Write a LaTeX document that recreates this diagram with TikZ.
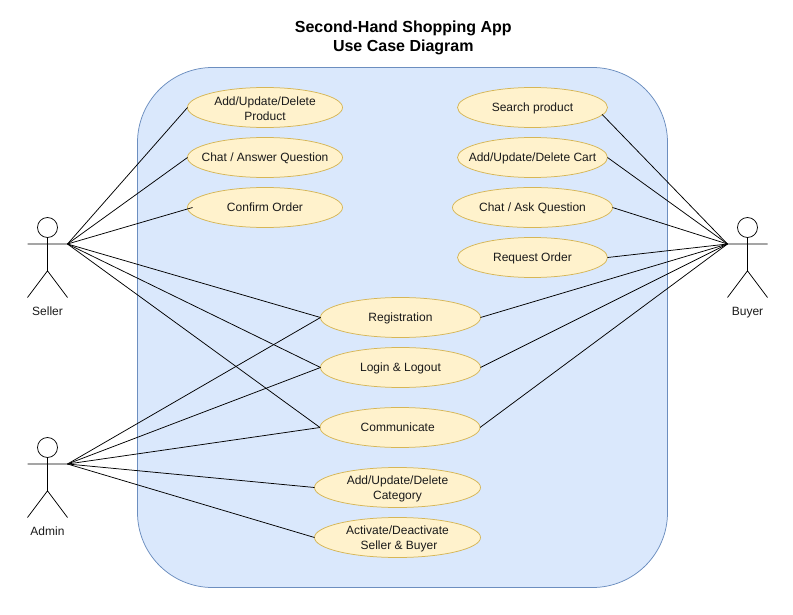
\documentclass[tikz,border=0pt]{standalone}
\usepackage{fontspec}
\setmainfont{Liberation Sans}
\usetikzlibrary{shapes.geometric}
\definecolor{boxfill}{HTML}{DAE8FC}
\definecolor{boxline}{HTML}{6C8EBF}
\definecolor{ucfill}{HTML}{FFF2CC}
\definecolor{ucline}{HTML}{D6B656}
\definecolor{txt}{HTML}{1A1A1A}
\tikzset{x=1pt,y=-1pt,
 uc/.style={ellipse,draw=ucline,fill=ucfill,line width=0.75pt,inner sep=0pt,outer sep=0pt,
   minimum width=#1,minimum height=40pt},
 ucbase/.style={align=center,font=\fontsize{12}{15}\selectfont,text=txt,inner sep=0pt},
 ucl/.style={ucbase,text height=8.6pt,text depth=2.6pt,yshift=-0.9pt},
 ucd/.style={ucbase,yshift=-1.1pt},
 link/.style={draw=black,line width=0.75pt},
 actorline/.style={draw=black,line width=0.75pt},
 lab/.style={font=\fontsize{12}{15}\selectfont,text=txt,inner sep=0pt,anchor=base}}
\newcommand{\actorfig}[2]{%
 \draw[actorline] (#1,#2+10) circle (10);
 \draw[actorline] (#1,#2+20) -- (#1,#2+53.3) (#1-20,#2+26.5) -- (#1+20,#2+26.5)
   (#1-20,#2+80) -- (#1,#2+53.3) -- (#1+20,#2+80);
}
\begin{document}
\begin{tikzpicture}
\useasboundingbox (0,0) rectangle (793,615);
\node[anchor=center,font=\fontsize{16}{19.7}\selectfont\bfseries,align=center,inner sep=0pt] (title) at (403.3,38) {Second-Hand Shopping App\\Use Case Diagram};
\draw[draw=boxline,fill=boxfill,line width=0.75pt,rounded corners=75pt] (137.5,67.5) rectangle (667.5,587.5);
\actorfig{47.5}{217.5}
\actorfig{47.5}{437.5}
\actorfig{747.5}{217.5}
\node[lab] (sellerlab) at (47.5,315) {Seller};
\node[lab] (adminlab) at (47.5,535) {Admin};
\node[lab] (buyerlab) at (747.5,315) {Buyer};
\coordinate (seller) at (67.5,244);
\coordinate (admin) at (67.5,464);
\coordinate (buyer) at (727.5,244);
\node[uc=155pt,label={[ucd]center:Add/Update/Delete\\Product}] (product) at (265,107.5) {};
\node[uc=155pt,label={[ucl]center:Chat / Answer Question}] (answer) at (265,157.5) {};
\node[uc=155pt,label={[ucl]center:Confirm Order}] (confirm) at (265,207.5) {};
\node[uc=150pt,label={[ucl]center:Search product}] (search) at (532.5,107.5) {};
\node[uc=150pt,label={[ucl]center:Add/Update/Delete Cart}] (cart) at (532.5,157.5) {};
\node[uc=160pt,label={[ucl]center:Chat / Ask Question}] (ask) at (532.5,207.5) {};
\node[uc=150pt,label={[ucl]center:Request Order}] (request) at (532.5,257.5) {};
\node[uc=160pt,label={[ucl]center:Registration}] (reg) at (400.5,317.5) {};
\node[uc=160pt,label={[ucl]center:Login \& Logout}] (login) at (400.5,367.5) {};
\node[uc=160pt,label={[ucl,xshift=-2.3pt]center:Communicate}] (comm) at (400,427.5) {};
\node[uc=166pt,label={[ucd]center:Add/Update/Delete\\Category}] (cat) at (397.5,487.5) {};
\node[uc=166pt,label={[ucd]center:Activate/Deactivate\\\hspace*{3pt}Seller \& Buyer}] (act) at (397.5,537.5) {};
\foreach \a/\b in {seller/product.west,seller/answer.west,seller/reg.west,seller/login.west,seller/comm.west,
 admin/reg.west,admin/login.west,admin/comm.west,admin/cat.west,admin/act.west,
 buyer/cart.east,buyer/ask.east,buyer/request.east,buyer/reg.east,buyer/login.east,buyer/comm.east}
  \draw[link] (\a) -- (\b);
\draw[link] (seller) -- ([xshift=5pt]confirm.west);
\draw[link] (buyer) -- ([shift={(-5.5pt,-6.8pt)}]search.east);
\end{tikzpicture}
\end{document}
